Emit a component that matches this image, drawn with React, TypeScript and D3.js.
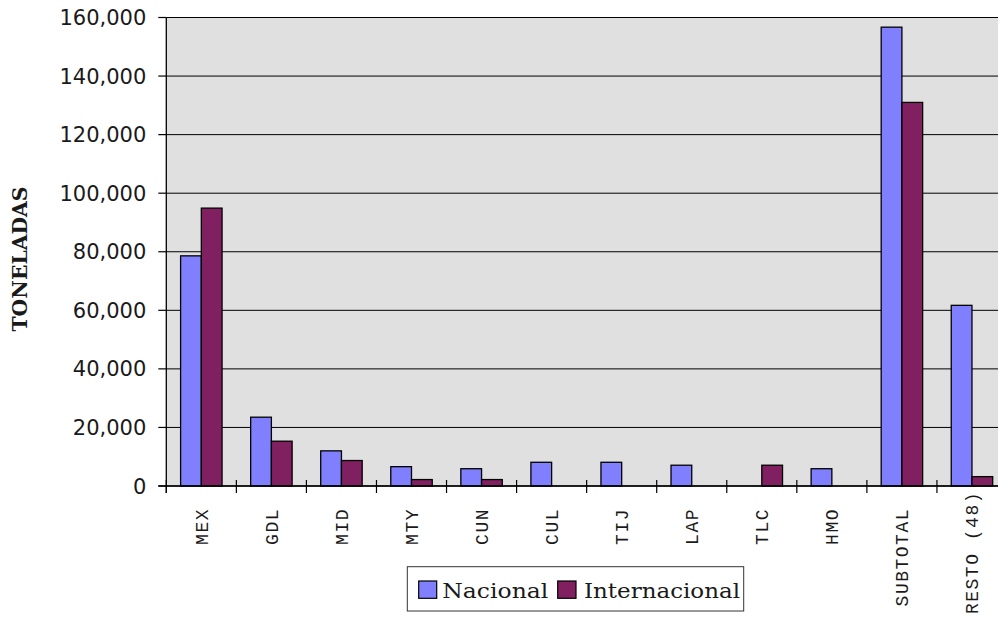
import React from "react";
import * as d3 from "d3";

// Tonnage by airport: domestic vs international
const categories = ["MEX", "GDL", "MID", "MTY", "CUN", "CUL", "TIJ", "LAP", "TLC", "HMO", "SUBTOTAL", "RESTO (48)"];
const nacional = [78600, 23500, 12000, 6600, 5900, 8100, 8100, 7100, 0, 5900, 156700, 61700];
const internacional = [94900, 15300, 8700, 2200, 2200, 0, 0, 0, 7100, 0, 131000, 3200];
const seriesNames = ["Nacional", "Internacional"];
const seriesColors = ["#8080ff", "#802060"];
const yTicks = [0, 20000, 40000, 60000, 80000, 100000, 120000, 140000, 160000];

const W = 998;
const H = 617;
const plot = { left: 166.3, right: 1007, top: 17.5, bottom: 486 };

export default function App() {
  const x = d3.scaleBand<string>().domain(categories).range([plot.left, plot.right]).paddingInner(0).paddingOuter(0);
  const x1 = d3.scaleBand<string>().domain(seriesNames).range([0, x.bandwidth()]).paddingInner(0).paddingOuter(0.69);
  const y = d3.scaleLinear().domain([0, 160000]).range([plot.bottom, plot.top]);
  const fmt = d3.format(",");
  const series = [nacional, internacional];

  const serif = "'DejaVu Serif', 'Liberation Serif', serif";
  const mono = "'Liberation Mono', 'Courier New', monospace";
  const labelSize = 18;
  const labelSpacing = 1.5;
  const labelAdvance = labelSize * 0.6 + labelSpacing;
  const labelTop = 508;
  const labelLimit = 614;

  return (
    <svg
      width={W}
      height={H}
      viewBox={`0 0 ${W} ${H}`}
      style={{ position: "absolute", left: 0, top: 0, display: "block", background: "#fff" }}
    >
      {/* plot area */}
      <rect x={plot.left} y={plot.top} width={plot.right - plot.left} height={plot.bottom - plot.top} fill="#e0e0e0" />

      {/* gridlines */}
      {yTicks.map((t) => (
        <line key={`g${t}`} x1={plot.left} x2={plot.right} y1={y(t)} y2={y(t)} stroke="#000" strokeWidth={1} />
      ))}

      {/* bars */}
      {categories.map((c, i) => (
        <g key={c}>
          {series.map((s, k) =>
            s[i] > 0 ? (
              <rect
                key={k}
                x={(x(c) as number) + (x1(seriesNames[k]) as number)}
                y={y(s[i])}
                width={x1.bandwidth()}
                height={y(0) - y(s[i])}
                fill={seriesColors[k]}
                stroke="#000"
                strokeWidth={1.3}
              />
            ) : null
          )}
        </g>
      ))}

      {/* axes */}
      <line x1={plot.left} x2={plot.left} y1={plot.top} y2={plot.bottom + 7} stroke="#000" strokeWidth={1.3} />
      <line x1={plot.left - 8} x2={plot.right} y1={plot.bottom} y2={plot.bottom} stroke="#000" strokeWidth={1.3} />
      {yTicks.map((t) => (
        <g key={`t${t}`}>
          <line x1={plot.left - 8} x2={plot.left} y1={y(t)} y2={y(t)} stroke="#000" strokeWidth={1.2} />
          <text
            x={plot.left - 20}
            y={y(t)}
            dy="0.36em"
            textAnchor="end"
            fontFamily="'DejaVu Sans', Verdana, sans-serif"
            fontSize={21}
            fill="#1a1a1a"
          >
            {fmt(t)}
          </text>
        </g>
      ))}
      {categories.map((c) => (
        <line
          key={`xt${c}`}
          x1={x(c) as number}
          x2={x(c) as number}
          y1={plot.bottom - 6}
          y2={plot.bottom + 7}
          stroke="#000"
          strokeWidth={1.2}
        />
      ))}

      {/* category labels */}
      {categories.map((c) => {
        const len = c.length * labelAdvance;
        const endY = Math.min(labelTop, labelLimit - len);
        const cx = (x(c) as number) + x.bandwidth() / 2;
        return (
          <text
            key={`xl${c}`}
            transform={`translate(${cx},${endY}) rotate(-90)`}
            textAnchor="end"
            dy="0.36em"
            fontFamily={mono}
            fontSize={labelSize}
            letterSpacing={labelSpacing}
            fill="#1a1a1a"
          >
            {c}
          </text>
        );
      })}

      {/* y-axis title */}
      <text
        transform={`translate(19,259) rotate(-90)`}
        textAnchor="middle"
        dy="0.36em"
        fontFamily={serif}
        fontWeight="bold"
        fontSize={21}
        textLength={145}
        lengthAdjust="spacingAndGlyphs"
        fill="#1a1a1a"
      >
        TONELADAS
      </text>

      {/* legend */}
      <g>
        <rect x={407.3} y={566.7} width={336.4} height={44.3} fill="#fff" stroke="#333" strokeWidth={1} />
        <rect x={418.7} y={581} width={18} height={17.3} fill={seriesColors[0]} stroke="#000" strokeWidth={1.2} />
        <text x={442.3} y={590} dy="0.36em" fontFamily={serif} fontSize={21} textLength={106} lengthAdjust="spacingAndGlyphs" fill="#1a1a1a">
          {seriesNames[0]}
        </text>
        <rect x={557.7} y={581} width={18.3} height={17.3} fill={seriesColors[1]} stroke="#000" strokeWidth={1.2} />
        <text x={584} y={590} dy="0.36em" fontFamily={serif} fontSize={21} textLength={156} lengthAdjust="spacingAndGlyphs" fill="#1a1a1a">
          {seriesNames[1]}
        </text>
      </g>
    </svg>
  );
}
